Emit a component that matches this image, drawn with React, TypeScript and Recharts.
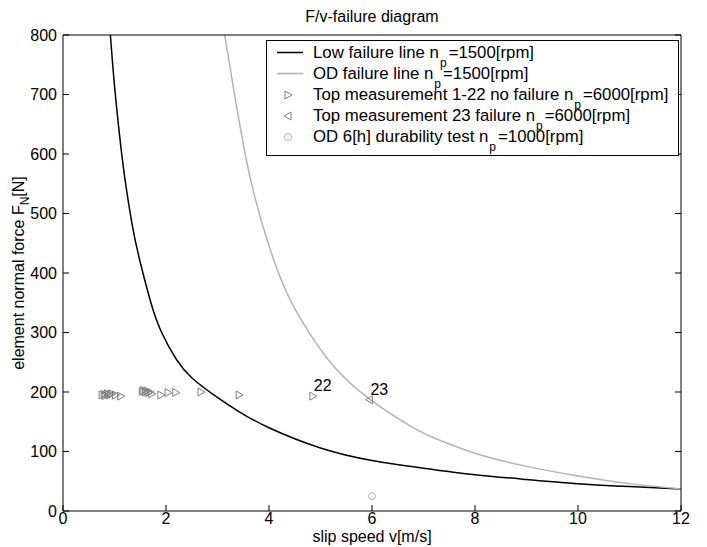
import React from 'react'
import {
  ComposedChart,
  Line,
  Scatter,
  XAxis,
  YAxis,
  Legend,
  LabelList,
} from 'recharts'

document.body.style.margin = '0'

const xTicks = [0, 2, 4, 6, 8, 10, 12]
const yTicks = [0, 100, 200, 300, 400, 500, 600, 700, 800]

// low failure line, n_p = 1500 rpm
const lowV = [0.92, 1.0, 1.1, 1.2, 1.35, 1.5, 1.7, 1.9, 2.2, 2.5, 2.9, 3.4, 4, 5, 6, 7, 8, 9, 10, 11, 12]
const lowF = [800, 715, 630, 560, 478, 418, 352, 303, 255, 224, 197, 168, 140, 106, 85, 72, 61, 53, 46, 41, 37]

// OD failure line, n_p = 1500 rpm
const odV = [3.14, 3.34, 3.56, 3.7, 3.85, 4.1, 4.4, 4.8, 5.3, 6.0, 6.8, 7.2, 8, 9, 10, 11, 12]
const odF = [800, 695, 590, 536, 488, 420, 357, 297, 239, 185, 140, 123, 97, 75, 59, 46, 37]

// top measurements 1-22, no failure
const topV = [0.76, 0.8, 0.82, 0.86, 0.89, 0.92, 0.95, 1.02, 1.12, 1.54, 1.57, 1.6, 1.63, 1.65, 1.69, 1.72, 1.9, 2.04, 2.19, 2.68, 3.42, 4.85]
const topF = [195, 196, 194, 197, 195, 196, 197, 195, 193, 201, 203, 200, 202, 199, 200, 197, 195, 199, 199, 200, 195, 193]
const topTags = ['', '', '', '', '', '', '', '', '', '', '', '', '', '', '', '', '', '', '', '', '', '22']

// top measurement 23, failure
const failV = [5.95]
const failF = [187]
const failTags = ['23']

// OD 6[h] durability test
const durV = [6.0]
const durF = [25]

const legendLabels = [
  'Low failure line',
  'OD failure line',
  'Top measurement 1-22 no failure',
  'Top measurement 23 failure',
  'OD 6[h] durability test',
]
const legendRpm = [1500, 1500, 6000, 6000, 1000]

const lowData = lowV.map((v, i) => ({ v, F: lowF[i] }))
const odData = odV.map((v, i) => ({ v, F: odF[i] }))
const topData = topV.map((v, i) => ({ v, F: topF[i], tag: topTags[i] }))
const failData = failV.map((v, i) => ({ v, F: failF[i], tag: failTags[i] }))
const durData = durV.map((v, i) => ({ v, F: durF[i] }))

const MARK = '#7f7f7f'
const LIGHT = '#b3b3b3'
const FONT = '"Liberation Sans", Arial, sans-serif'

const triRight = (cx: number, cy: number) =>
  `M${cx - 3},${cy - 4}L${cx + 4},${cy}L${cx - 3},${cy + 4}Z`
const triLeft = (cx: number, cy: number) =>
  `M${cx + 3},${cy - 4}L${cx - 4},${cy}L${cx + 3},${cy + 4}Z`

const RightMark = (p: any) => <path d={triRight(p.cx, p.cy)} fill="none" stroke={MARK} strokeWidth={1} />
const LeftMark = (p: any) => <path d={triLeft(p.cx, p.cy)} fill="none" stroke={MARK} strokeWidth={1} />
const CircleMark = (p: any) => <circle cx={p.cx} cy={p.cy} r={3.5} fill="none" stroke={LIGHT} strokeWidth={1} />

const renderTag = (p: any) => {
  if (!p.value) return null
  const cx = p.x + p.width / 2
  const cy = p.y + p.height / 2
  return (
    <text x={cx + 1} y={cy - 5} fontSize={16} fill="#000">
      {p.value}
    </text>
  )
}

const Sub = ({ children }: any) => (
  <span style={{ fontSize: 12, position: 'relative', top: 9, marginLeft: 1, marginRight: 2 }}>{children}</span>
)

const legendIcon = (i: number) => {
  if (i === 0) return <line x1={10} x2={36} y1={10.5} y2={10.5} stroke="#000" strokeWidth={1.5} />
  if (i === 1) return <line x1={10} x2={36} y1={10.5} y2={10.5} stroke={LIGHT} strokeWidth={1.5} />
  if (i === 2) return <path d={triRight(21, 11)} fill="none" stroke={MARK} />
  if (i === 3) return <path d={triLeft(21, 11)} fill="none" stroke={MARK} />
  return <circle cx={21} cy={11} r={3.5} fill="none" stroke={LIGHT} />
}

const renderLegend = () => (
  <div
    style={{
      border: '1px solid #000',
      background: '#fff',
      width: 411,
      height: 113,
      paddingTop: 1,
      boxSizing: 'content-box',
      fontFamily: FONT,
      fontSize: 16.8,
      color: '#000',
    }}
  >
    {legendLabels.map((label, i) => (
      <div key={label} style={{ display: 'flex', alignItems: 'center', height: 21, whiteSpace: 'nowrap' }}>
        <svg width={46} height={21} style={{ flex: 'none' }}>
          {legendIcon(i)}
        </svg>
        <span>
          {label} n<Sub>p</Sub>={legendRpm[i]}[rpm]
        </span>
      </div>
    ))}
  </div>
)

const YTitle = (p: any) => {
  const { x, y, height } = p.viewBox
  const cx = x + 21
  const cy = y + height / 2
  return (
    <text x={cx} y={cy} textAnchor="middle" fontSize={16} fill="#000" transform={`rotate(-90, ${cx}, ${cy})`}>
      element normal force F<tspan dy={5} fontSize={12}>N</tspan>
      <tspan dy={-5}>[N]</tspan>
    </text>
  )
}

const XTitle = (p: any) => {
  const { x, y, width } = p.viewBox
  return (
    <text x={x + width / 2} y={y + 31} textAnchor="middle" fontSize={16} fill="#000">
      slip speed v[m/s]
    </text>
  )
}

const tickStyle = { fontSize: 16, fill: '#000' }

export default function App() {
  return (
    <div style={{ position: 'relative', width: 707, height: 547, background: '#fff', fontFamily: FONT }}>
      <div
        style={{
          position: 'absolute',
          top: 7,
          left: 63,
          width: 618,
          textAlign: 'center',
          fontSize: 16,
          lineHeight: '20px',
          color: '#000',
        }}
      >
        F/v-failure diagram
      </div>
      <ComposedChart width={707} height={547} margin={{ top: 5, right: 0, bottom: 6, left: 3 }}>
        <XAxis
          xAxisId={0}
          dataKey="v"
          type="number"
          domain={[0, 12]}
          ticks={xTicks}
          allowDataOverflow
          height={30}
          tick={tickStyle}
          tickSize={-6}
          tickMargin={8}
          stroke="#000"
          label={<XTitle />}
        />
        <XAxis
          xAxisId="top"
          orientation="top"
          type="number"
          domain={[0, 12]}
          ticks={xTicks}
          allowDataOverflow
          height={30}
          tickSize={-6}
          tickFormatter={() => ''}
          stroke="#000"
        />
        <YAxis
          yAxisId={0}
          dataKey="F"
          type="number"
          domain={[0, 800]}
          ticks={yTicks}
          allowDataOverflow
          width={60}
          tick={tickStyle}
          tickSize={-6}
          tickMargin={12}
          stroke="#000"
          label={<YTitle />}
        />
        <YAxis
          yAxisId="right"
          orientation="right"
          type="number"
          domain={[0, 800]}
          ticks={yTicks}
          allowDataOverflow
          width={26}
          tickSize={-6}
          tickFormatter={() => ''}
          stroke="#000"
        />
        <Legend
          layout="vertical"
          align="center"
          verticalAlign="middle"
          content={renderLegend}
          wrapperStyle={{ left: 266, top: 40, width: 413, height: 117 }}
        />
        <Line
          data={lowData}
          dataKey="F"
          type="natural"
          stroke="#000"
          strokeWidth={1.5}
          dot={false}
          isAnimationActive={false}
        />
        <Line
          data={odData}
          dataKey="F"
          type="natural"
          stroke={LIGHT}
          strokeWidth={1.5}
          dot={false}
          isAnimationActive={false}
        />
        <Scatter data={topData} dataKey="F" shape={RightMark} isAnimationActive={false}>
          <LabelList dataKey="tag" content={renderTag} />
        </Scatter>
        <Scatter data={failData} dataKey="F" shape={LeftMark} isAnimationActive={false}>
          <LabelList dataKey="tag" content={renderTag} />
        </Scatter>
        <Scatter data={durData} dataKey="F" shape={CircleMark} isAnimationActive={false} />
      </ComposedChart>
    </div>
  )
}
